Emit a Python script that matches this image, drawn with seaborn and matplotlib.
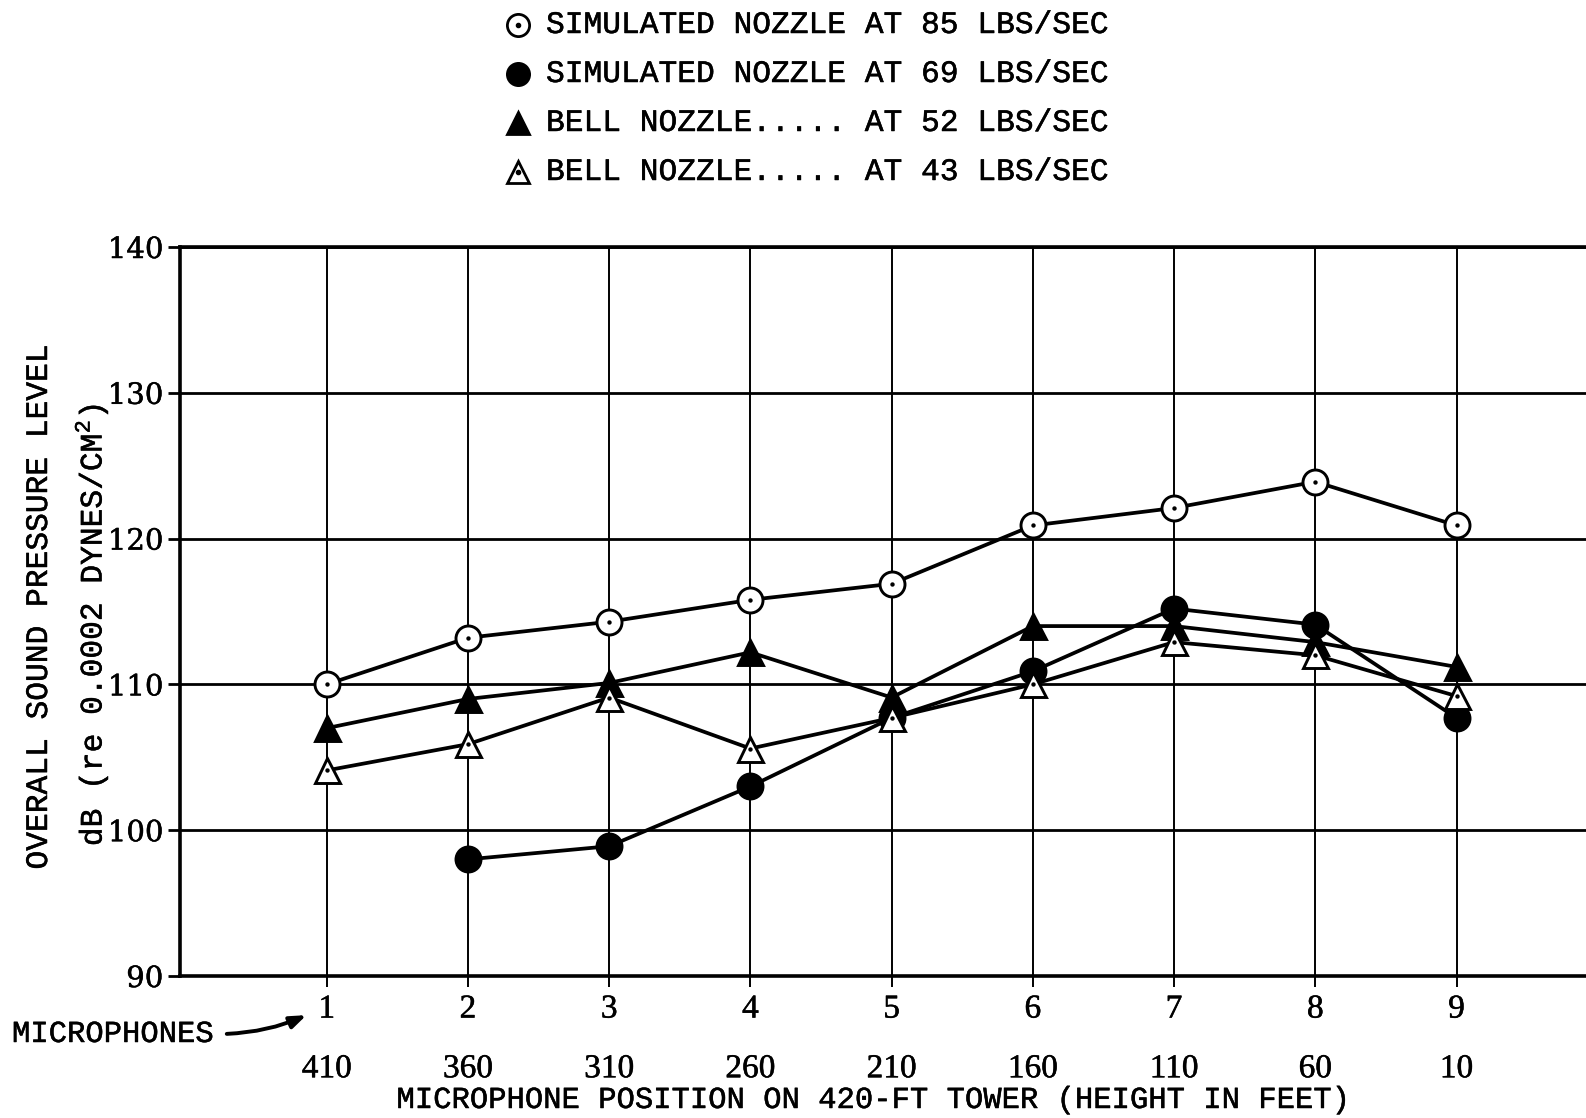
import numpy as np
import pandas as pd
import matplotlib
matplotlib.use("Agg")
import matplotlib.pyplot as plt
import matplotlib.patheffects as pe
import seaborn as sns
from matplotlib.lines import Line2D

# ---- data ----
microphones = [1, 2, 3, 4, 5, 6, 7, 8, 9]
heights = [410, 360, 310, 260, 210, 160, 110, 60, 10]
sim85 = [110.0, 113.2, 114.3, 115.8, 116.9, 120.9, 122.1, 123.9, 120.9]
sim69 = [np.nan, 98.0, 98.9, 103.0, 107.7, 110.9, 115.2, 114.1, 107.7]
bell52 = [107.0, 109.0, 110.1, 112.2, 109.1, 114.0, 114.0, 112.9, 111.2]
bell43 = [104.1, 105.9, 109.1, 105.6, 107.7, 110.0, 112.9, 112.0, 109.2]
series_labels = [
    "SIMULATED NOZZLE AT 85 LBS/SEC",
    "SIMULATED NOZZLE AT 69 LBS/SEC",
    "BELL NOZZLE..... AT 52 LBS/SEC",
    "BELL NOZZLE..... AT 43 LBS/SEC",
]
y_ticks = [90, 100, 110, 120, 130, 140]

sns.set_theme(style="white")
plt.rcParams["font.family"] = ["Liberation Mono", "DejaVu Sans"]
plt.rcParams["mathtext.fontset"] = "custom"
plt.rcParams["mathtext.rm"] = "Liberation Mono"

thick = [pe.withStroke(linewidth=0.35, foreground="black")]

W, H = 1586, 1118
fig = plt.figure(figsize=(W / 100, H / 100), dpi=100)
fig.patch.set_facecolor("white")

ax_left, ax_top_px, ax_bot_px = 180 / W, 247, 976
ax = fig.add_axes([ax_left, 1 - ax_bot_px / H, 1 - ax_left, (ax_bot_px - ax_top_px) / H])
ax.set_facecolor("white")

styles = [
    dict(marker="o", markersize=18, markerfacecolor="white", dot=True),
    dict(marker="o", markersize=18, markerfacecolor="black", dot=False),
    dict(marker="^", markersize=18, markerfacecolor="black", dot=False),
    dict(marker="^", markersize=18, markerfacecolor="white", dot=True),
]
all_series = [sim85, sim69, bell52, bell43]

for vals, st in zip(all_series, styles):
    df = pd.DataFrame({"mic": microphones, "spl": vals}).dropna()
    sns.lineplot(
        data=df, x="mic", y="spl", ax=ax, color="black", linewidth=2.7,
        marker=st["marker"], markersize=st["markersize"],
        markerfacecolor=st["markerfacecolor"], markeredgecolor="black",
        markeredgewidth=2.1, errorbar=None, zorder=3,
    )
    if st["dot"]:
        sns.scatterplot(data=df, x="mic", y="spl", ax=ax, color="black",
                        s=10, linewidth=0, zorder=5)

ax.set_xlim(-0.039, 9.917)
ax.set_ylim(90, 140)
ax.set_xticks(microphones)
ax.set_xticklabels([str(m) for m in microphones], fontfamily="Liberation Serif", fontsize=24)
ax.set_yticks(y_ticks)
ax.set_yticklabels([str(v) for v in y_ticks], fontfamily="DejaVu Serif", fontsize=21)
for t in ax.get_xticklabels() + ax.get_yticklabels():
    t.set_path_effects(thick)
ax.set_xlabel("")
ax.set_ylabel("")

ax.set_axisbelow(True)
ax.xaxis.grid(True, color="black", linewidth=1.4)
ax.yaxis.grid(True, color="black", linewidth=2.0)

for side in ["left", "bottom", "top"]:
    ax.spines[side].set_visible(True)
    ax.spines[side].set_color("black")
    ax.spines[side].set_linewidth(2.6)
ax.spines["right"].set_visible(False)

ax.tick_params(axis="x", direction="out", length=8, width=1.4, color="black", pad=5, labelcolor="black")
ax.tick_params(axis="y", direction="out", length=9, width=2.0, color="black", pad=3, labelcolor="black")
ax.tick_params(bottom=True, left=True)

# second row of x labels: heights
for m, h in zip(microphones, heights):
    ax.text(m, -(1069 - 976) / (976 - 247), str(h), transform=ax.get_xaxis_transform(),
            ha="center", va="center", fontfamily="Liberation Serif", fontsize=24,
            color="black", path_effects=thick)

fig.text(871 / W, 1 - 1100 / H, "MICROPHONE POSITION ON 420-FT TOWER (HEIGHT IN FEET)",
         ha="center", va="center", fontsize=22, color="black", path_effects=thick)

# y label (two lines)
fig.text(39 / W, 1 - 607 / H, "OVERALL SOUND PRESSURE LEVEL", rotation=90,
         ha="center", va="center", fontsize=22.5, color="black", path_effects=thick)
fig.text(92 / W, 1 - 625 / H, r"dB (re 0.0002 DYNES/CM$^2$)", rotation=90,
         ha="center", va="center", fontsize=22.5, color="black", path_effects=thick)

# MICROPHONES annotation
fig.text(12 / W, 1 - 1034 / H, "MICROPHONES", ha="left", va="center", fontsize=22,
         color="black", path_effects=thick)
ax.annotate("", xy=(309 / W, 1 - 1014 / H), xycoords="figure fraction",
            xytext=(224 / W, 1 - 1034 / H), textcoords="figure fraction",
            arrowprops=dict(arrowstyle="-|>,head_length=0.8,head_width=0.3", color="black",
                            lw=2.8, connectionstyle="arc3,rad=0.1"))

# legend at top
leg_rows = [25, 74, 123, 172]
for lab, st, yp in zip(series_labels, styles, leg_rows):
    yf = 1 - yp / H
    fig.add_artist(Line2D([518 / W], [yf], transform=fig.transFigure, marker=st["marker"],
                          markersize=16, markerfacecolor=st["markerfacecolor"],
                          markeredgecolor="black", markeredgewidth=2.0, linestyle="none"))
    if st["dot"]:
        fig.add_artist(Line2D([518 / W], [yf], transform=fig.transFigure, marker="o",
                              markersize=3, color="black", linestyle="none"))
    fig.text(546 / W, yf, lab, ha="left", va="center", fontsize=22.5, color="black",
             path_effects=thick)

fig.savefig("out.png", dpi=100, facecolor="white")
